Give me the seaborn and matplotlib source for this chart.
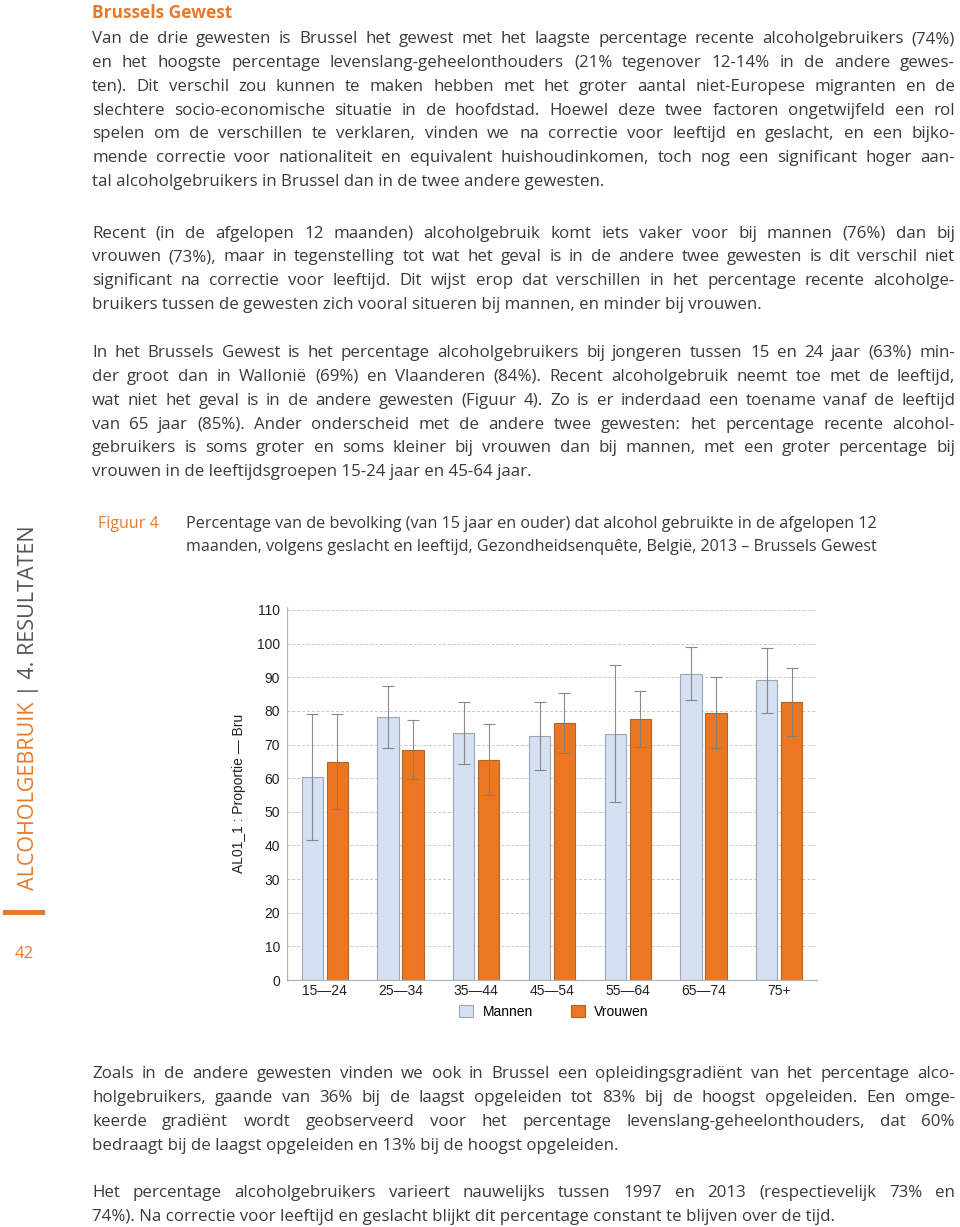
import matplotlib
matplotlib.use("Agg")
import matplotlib.pyplot as plt
import seaborn as sns
import pandas as pd
from matplotlib.patches import Rectangle
from matplotlib import font_manager

# ---------------- data ----------------
ages = ["15\u201424", "25\u201434", "35\u201444", "45\u201454", "55\u201464", "65\u201474", "75+"]
mannen = [60.2, 78.3, 73.3, 72.5, 73.2, 91.1, 89.2]
mannen_lo = [41.5, 68.9, 64.1, 62.4, 52.8, 83.2, 79.3]
mannen_hi = [79.0, 87.4, 82.5, 82.7, 93.5, 98.9, 98.7]
vrouwen = [64.9, 68.5, 65.5, 76.4, 77.5, 79.5, 82.6]
vrouwen_lo = [50.9, 59.7, 55.1, 67.6, 69.2, 68.9, 72.6]
vrouwen_hi = [79.0, 77.4, 76.0, 85.2, 85.8, 90.0, 92.6]
yticks = [0, 10, 20, 30, 40, 50, 60, 70, 80, 90, 100, 110]
series_names = ["Mannen", "Vrouwen"]

heading = "Brussels Gewest"
para1 = [
    "Van de drie gewesten is Brussel het gewest met het laagste percentage recente alcoholgebruikers (74%)",
    "en het hoogste percentage levenslang-geheelonthouders (21% tegenover 12-14% in de andere gewes-",
    "ten). Dit verschil zou kunnen te maken hebben met het groter aantal niet-Europese migranten en de",
    "slechtere socio-economische situatie in de hoofdstad. Hoewel deze twee factoren ongetwijfeld een rol",
    "spelen om de verschillen te verklaren, vinden we na correctie voor leeftijd en geslacht, en een bijko-",
    "mende correctie voor nationaliteit en equivalent huishoudinkomen, toch nog een significant hoger aan-",
    "tal alcoholgebruikers in Brussel dan in de twee andere gewesten.",
]
para2 = [
    "Recent (in de afgelopen 12 maanden) alcoholgebruik komt iets vaker voor bij mannen (76%) dan bij",
    "vrouwen (73%), maar in tegenstelling tot wat het geval is in de andere twee gewesten is dit verschil niet",
    "significant na correctie voor leeftijd. Dit wijst erop dat verschillen in het percentage recente alcoholge-",
    "bruikers tussen de gewesten zich vooral situeren bij mannen, en minder bij vrouwen.",
]
para3 = [
    "In het Brussels Gewest is het percentage alcoholgebruikers bij jongeren tussen 15 en 24 jaar (63%) min-",
    "der groot dan in Walloni\u00eb (69%) en Vlaanderen (84%). Recent alcoholgebruik neemt toe met de leeftijd,",
    "wat niet het geval is in de andere gewesten (Figuur 4). Zo is er inderdaad een toename vanaf de leeftijd",
    "van 65 jaar (85%). Ander onderscheid met de andere twee gewesten: het percentage recente alcohol-",
    "gebruikers is soms groter en soms kleiner bij vrouwen dan bij mannen, met een groter percentage bij",
    "vrouwen in de leeftijdsgroepen 15-24 jaar en 45-64 jaar.",
]
para4 = [
    "Zoals in de andere gewesten vinden we ook in Brussel een opleidingsgradi\u00ebnt van het percentage alco-",
    "holgebruikers, gaande van 36% bij de laagst opgeleiden tot 83% bij de hoogst opgeleiden. Een omge-",
    "keerde gradi\u00ebnt wordt geobserveerd voor het percentage levenslang-geheelonthouders, dat 60%",
    "bedraagt bij de laagst opgeleiden en 13% bij de hoogst opgeleiden.",
]
para5 = [
    "Het percentage alcoholgebruikers varieert nauwelijks tussen 1997 en 2013 (respectievelijk 73% en",
    "74%). Na correctie voor leeftijd en geslacht blijkt dit percentage constant te blijven over de tijd.",
]
fig_label = "Figuur 4"
caption = [
    "Percentage van de bevolking (van 15 jaar en ouder) dat alcohol gebruikte in de afgelopen 12",
    "maanden, volgens geslacht en leeftijd, Gezondheidsenqu\u00eate, Belgi\u00eb, 2013 \u2013 Brussels Gewest",
]
ylabel = "AL01_1 : Proportie \u2014 Bru"
side_a = "ALCOHOLGEBRUIK"
side_b = "| 4. RESULTATEN"
page_no = "42"

# ---------------- styles ----------------
W, H = 960, 1227
ORANGE = "#e8792b"
TXT = "#3a3a3a"
BODY = ["Open Sans", "DejaVu Sans"]
CHART = ["Liberation Sans", "DejaVu Sans"]
try:
    font_manager.findfont("Liberation Sans Narrow", fallback_to_default=False)
    NARROW = ["Liberation Sans Narrow", "DejaVu Sans"]
except Exception:
    NARROW = BODY
plt.rcParams["font.family"] = BODY

fig = plt.figure(figsize=(W / 100, H / 100), dpi=100)
renderer = fig.canvas.get_renderer()
X0, X1 = 92, 955


def fx(x):
    return x / W


def fy(y):
    return 1 - y / H


def text_width(s, size, family):
    t = fig.text(0, 0, s, fontsize=size, family=family)
    w = t.get_window_extent(renderer).width
    t.remove()
    return w


def fit_size(paras, family, ref=11.0):
    sizes = []
    for lines in paras:
        for line in lines[:-1]:
            sizes.append(ref * (X1 - X0) / text_width(line, ref, family))
    return min(sizes)


def draw_para(lines, y0, size, family, step=23.85):
    for i, line in enumerate(lines):
        y = y0 + i * step
        if i == len(lines) - 1:
            fig.text(fx(X0), fy(y), line, ha="left", va="baseline",
                     fontsize=size, color=TXT, family=family)
            continue
        words = line.split(" ")
        texts = [fig.text(0, 0, w, ha="left", va="baseline", fontsize=size,
                          color=TXT, family=family) for w in words]
        widths = [t.get_window_extent(renderer).width for t in texts]
        gap = (X1 - X0 - sum(widths)) / (len(words) - 1)
        x = X0
        for t, w in zip(texts, widths):
            t.set_position((fx(x), fy(y)))
            x += w + gap


body_size = min(fit_size([para1, para2, para3], BODY), 12.2)
low_size = min(fit_size([para4, para5], NARROW), body_size)

# heading + body text
fig.text(fx(92), fy(18), heading, ha="left", va="baseline", fontsize=12.5,
         fontweight="bold", color=ORANGE, family=BODY)
draw_para(para1, 43, body_size, BODY)
draw_para(para2, 237.5, body_size, BODY)
draw_para(para3, 357, body_size, BODY)
draw_para(para4, 1078.5, low_size, NARROW)
draw_para(para5, 1197, low_size, NARROW)

# caption
fig.text(fx(98), fy(528), fig_label, ha="left", va="baseline", fontsize=11.5,
         color=ORANGE, family=BODY)
cap_fs = 10.5 * 694 / text_width(caption[0], 10.5, BODY)
for i, line in enumerate(caption):
    fig.text(fx(186), fy(528 + i * 23), line, ha="left", va="baseline",
             fontsize=cap_fs, color=TXT, family=BODY)

# side label
ta = fig.text(fx(29), fy(890), side_a, rotation=90, ha="center", va="bottom",
              fontsize=15.5, color=ORANGE, family=BODY)
ext = ta.get_window_extent(renderer)
top_a = H - ext.y1
fig.text(fx(29), fy(top_a - 6), side_b, rotation=90, ha="center", va="bottom",
         fontsize=15.5, color="#555555", family=BODY)
fig.add_artist(Rectangle((fx(3), fy(915)), fx(42), 5 / H, transform=fig.transFigure,
                         facecolor=ORANGE, edgecolor="none"))
fig.text(fx(24), fy(958), page_no, ha="center", va="baseline", fontsize=12,
         color=ORANGE, family=BODY)

# ---------------- chart ----------------
ax_left, ax_right, ax_bottom, ax_top = 287, 817, 980, 606.6
ax = fig.add_axes([fx(ax_left), fy(ax_bottom), (ax_right - ax_left) / W,
                   (ax_bottom - ax_top) / H])

df = pd.DataFrame({
    "leeftijd": ages * 2,
    "geslacht": [series_names[0]] * len(ages) + [series_names[1]] * len(ages),
    "waarde": mannen + vrouwen,
})
sns.barplot(data=df, x="leeftijd", y="waarde", hue="geslacht", order=ages,
            hue_order=series_names, palette=["#d5e0f0", "#ea7723"],
            width=0.66, gap=0.15, errorbar=None, legend=False, ax=ax,
            saturation=1)

bar_conts = list(ax.containers)
edge_cols = ["#9aa6b8", "#b8621f"]
los = [mannen_lo, vrouwen_lo]
his = [mannen_hi, vrouwen_hi]
vals = [mannen, vrouwen]
for k, cont in enumerate(bar_conts):
    xs = []
    for p in cont.patches:
        p.set_edgecolor(edge_cols[k])
        p.set_linewidth(0.8)
        xs.append(p.get_x() + p.get_width() / 2)
    lo = [v - l for v, l in zip(vals[k], los[k])]
    hi = [h - v for v, h in zip(vals[k], his[k])]
    ax.errorbar(xs, vals[k], yerr=[lo, hi], fmt="none", ecolor="#7d7d7d",
                elinewidth=0.8, capsize=4, capthick=0.8, alpha=0.9, zorder=3)

ax.set_xlim(-0.5, len(ages) - 0.5)
ax.set_ylim(0, 111)
ax.set_yticks(yticks)
ax.set_yticklabels([str(v) for v in yticks], family=CHART, fontsize=10, color="#222222")
ax.set_xticks(range(len(ages)))
ax.set_xticklabels(ages, family=CHART, fontsize=10, color="#222222")
ax.tick_params(axis="both", length=0)
ax.tick_params(axis="y", pad=5)
ax.tick_params(axis="x", pad=3)
ax.set_xlabel("")
ax.set_ylabel(ylabel, family=CHART, fontsize=10, color="#222222")
ax.yaxis.set_label_coords(-0.077, 0.5)
ax.grid(axis="y", color="#c8c8c8", linestyle=(0, (3, 2)), linewidth=0.7)
ax.set_axisbelow(True)
for s in ["top", "right"]:
    ax.spines[s].set_visible(False)
for s in ["left", "bottom"]:
    ax.spines[s].set_color("#b5b5b5")
    ax.spines[s].set_linewidth(0.9)
ax.set_facecolor("white")

fig.legend(bar_conts, series_names, loc="center",
           bbox_to_anchor=(fx(554), fy(1012)), ncol=2, frameon=False,
           prop={"family": CHART, "size": 10}, handlelength=1.0, handleheight=1.0,
           handletextpad=0.7, columnspacing=2.7)

fig.savefig("out.png", dpi=100, facecolor="white")
